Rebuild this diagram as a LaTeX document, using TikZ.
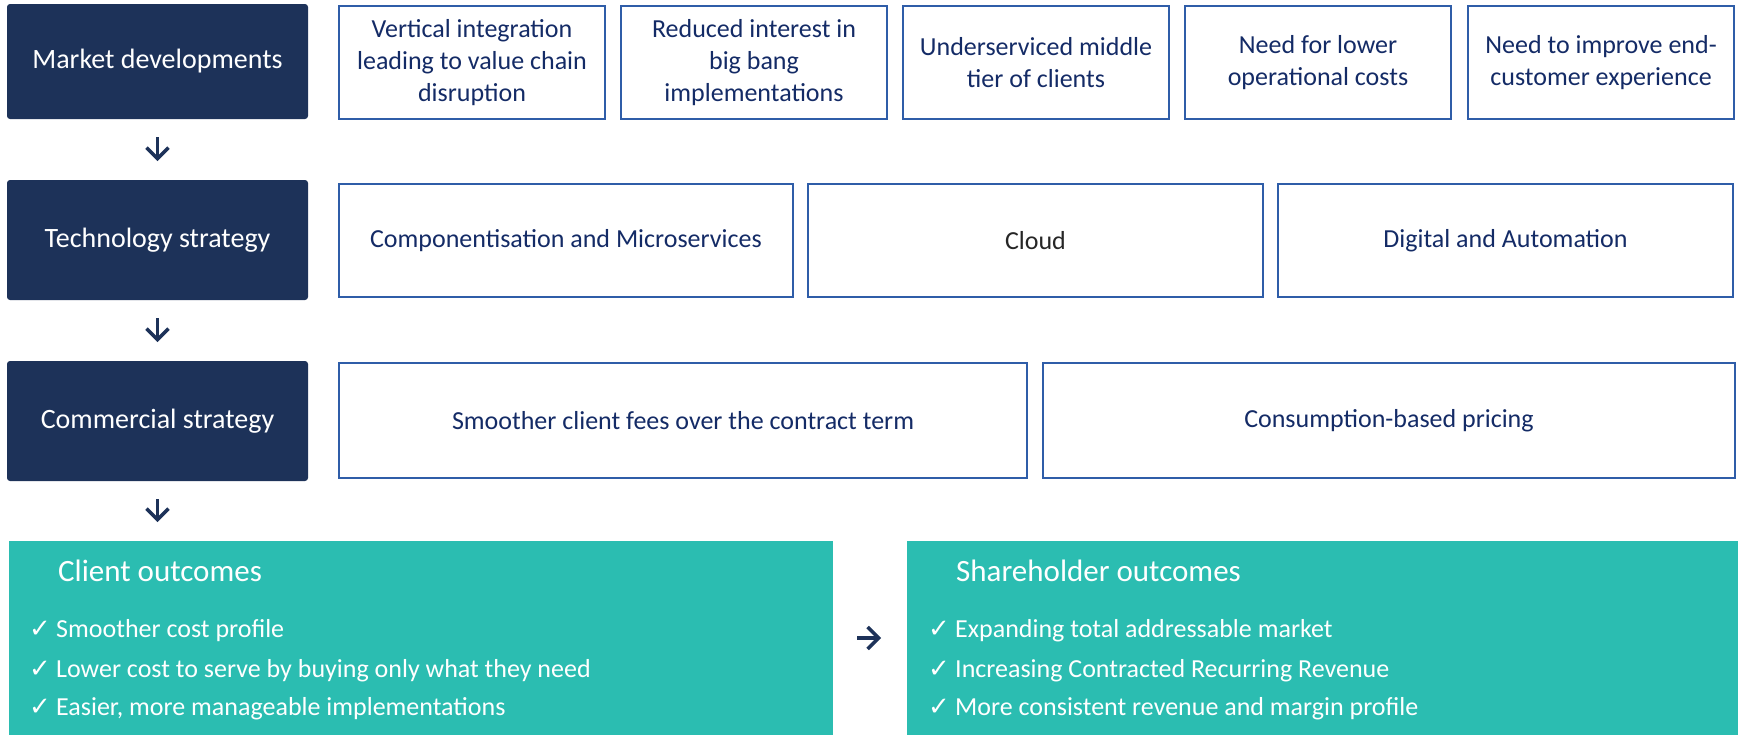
\documentclass[tikz,border=0pt]{standalone}
\usepackage{fontspec}
\setmainfont{Carlito}
\newfontfamily\symfont{DejaVu Sans}
\usetikzlibrary{arrows.meta}
\definecolor{navy}{HTML}{1D3259}
\definecolor{edgeblue}{HTML}{2F5DA8}
\definecolor{textnavy}{HTML}{142B66}
\definecolor{cloudgray}{HTML}{262626}
\definecolor{tealbox}{HTML}{2BBDB1}
\begin{document}
\begin{tikzpicture}[x=1pt,y=-1pt,
  darkbox/.style={fill=navy,rounded corners=3pt,text=white,inner sep=0pt,outer sep=0pt,
    font=\fontsize{28}{34}\selectfont,minimum width=301pt},
  whitebox/.style={draw=edgeblue,line width=2.2pt,fill=white,text=textnavy,inner sep=0pt,outer sep=0pt,
    align=center,font=\fontsize{26}{32}\selectfont},
  tealpanel/.style={fill=tealbox,inner sep=0pt,outer sep=0pt},
  headtext/.style={text=white,inner sep=0pt,anchor=base west,font=\fontsize{31}{36}\selectfont},
  itemtext/.style={text=white,inner sep=0pt,anchor=base west,font=\fontsize{26}{31}\selectfont},
  checktext/.style={text=white,inner sep=0pt,anchor=base west,font=\symfont\fontsize{26}{30}\selectfont},
  flowarrow/.style={draw=navy,line width=3.5pt,-{Straight Barb[length=11pt,width=22pt]}}
]
\useasboundingbox (0,0) rectangle (1738,734);

% left column
\node[darkbox,minimum height=115pt] (md) at (157.5,61.5) {Market developments};
\node[darkbox,minimum height=120pt] (ts) at (157.5,240) {Technology strategy};
\node[darkbox,minimum height=120pt] (cs) at (157.5,421) {Commercial strategy};

% row 1
\node[whitebox,minimum width=266pt,minimum height=113pt] (m1) at (472,62.5) {Vertical integration\\leading to value chain\\disruption};
\node[whitebox,minimum width=266pt,minimum height=113pt] (m2) at (754,62.5) {Reduced interest in\\big bang\\implementations};
\node[whitebox,minimum width=266pt,minimum height=113pt] (m3) at (1036,62.5) {Underserviced middle\\tier of clients};
\node[whitebox,minimum width=266pt,minimum height=113pt] (m4) at (1318,62.5) {Need for lower\\operational costs};
\node[whitebox,minimum width=266pt,minimum height=113pt] (m5) at (1601,62.5) {Need to improve end-\\customer experience};

% row 2
\node[whitebox,minimum width=454pt,minimum height=113pt] (t1) at (566,240.5) {Componentisation and Microservices};
\node[whitebox,minimum width=455pt,minimum height=113pt,text=cloudgray] (t2) at (1035.5,240.5) {Cloud};
\node[whitebox,minimum width=455pt,minimum height=113pt] (t3) at (1505.5,240.5) {Digital and Automation};

% row 3
\node[whitebox,minimum width=688pt,minimum height=115pt] (c1) at (683,420.5) {Smoother client fees over the contract term};
\node[whitebox,minimum width=692pt,minimum height=115pt] (c2) at (1389,420.5) {Consumption-based pricing};

% teal panels
\node[tealpanel,minimum width=824pt,minimum height=194pt] (client) at (421,638) {};
\node[tealpanel,minimum width=831pt,minimum height=194pt] (share) at (1322.5,638) {};

\node[headtext] (ch) at (58,581) {Client outcomes};
\node[checktext] (cc1) at (29,637) {✓};
\node[itemtext] (ci1) at (56,637) {Smoother cost profile};
\node[checktext] (cc2) at (29,677) {✓};
\node[itemtext] (ci2) at (56,677) {Lower cost to serve by buying only what they need};
\node[checktext] (cc3) at (29,715) {✓};
\node[itemtext] (ci3) at (56,715) {Easier, more manageable implementations};

\node[headtext] (sh) at (956,581) {Shareholder outcomes};
\node[checktext] (sc1) at (928,637) {✓};
\node[itemtext] (si1) at (955,637) {Expanding total addressable market};
\node[checktext] (sc2) at (928,677) {✓};
\node[itemtext] (si2) at (955,677) {Increasing Contracted Recurring Revenue};
\node[checktext] (sc3) at (928,715) {✓};
\node[itemtext] (si3) at (955,715) {More consistent revenue and margin profile};

% arrows
\coordinate (clienttop) at (157.5,541);
\draw[flowarrow,shorten <=18pt,shorten >=19pt] (md.south) -- (ts.north);
\draw[flowarrow,shorten <=18pt,shorten >=19pt] (ts.south) -- (cs.north);
\draw[flowarrow,shorten <=18pt,shorten >=19pt] (cs.south) -- (clienttop);
\draw[flowarrow,shorten <=24pt,shorten >=26pt] (client.east) -- (share.west);
\end{tikzpicture}
\end{document}
